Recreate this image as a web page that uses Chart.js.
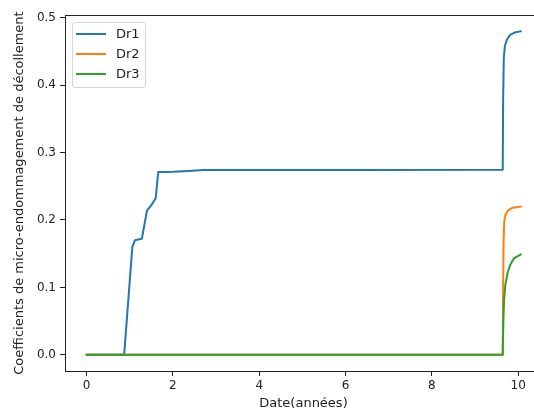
<!DOCTYPE html>
<html>
<head>
<meta charset="utf-8">
<script src="https://cdn.jsdelivr.net/npm/chart.js@4"></script>
<style>
  html, body { margin: 0; padding: 0; background: #fff; overflow: hidden; width: 534px; height: 414px; }
  #wrap { position: relative; width: 546px; height: 414px; }
  #legend {
    position: absolute; left: 72px; top: 22px; width: 72px; height: 64px;
    border: 1px solid #d6d6d6; border-radius: 3px; background: rgba(255,255,255,0.8);
    font-family: "DejaVu Sans", sans-serif; font-size: 13px; color: #222;
  }
  .row { position: absolute; left: 0; height: 20px; line-height: 20px; }
  .sw { position: absolute; left: 3px; top: 9px; width: 30px; height: 2px; }
  .lb { position: absolute; left: 43px; top: 0; white-space: nowrap; }
</style>
</head>
<body>
<div id="wrap">
  <canvas id="c" width="546" height="414"></canvas>
  <div id="legend"></div>
</div>
<script>
// Séries (x en années)
const seriesNames = ['Dr1', 'Dr2', 'Dr3'];
const seriesColors = ['#1f77b4', '#ff7f0e', '#2ca02c'];

const dr1X = [0, 0.87, 1.06, 1.12, 1.28, 1.40, 1.50, 1.60, 1.66, 2.0, 2.7, 9.64, 9.65, 9.665, 9.69, 9.74, 9.82, 9.92, 10.06];
const dr1Y = [0, 0, 0.160, 0.170, 0.172, 0.214, 0.222, 0.232, 0.271, 0.2715, 0.274, 0.2745, 0.38, 0.44, 0.458, 0.468, 0.475, 0.478, 0.48];

const dr2X = [0, 9.64, 9.65, 9.66, 9.675, 9.70, 9.76, 9.86, 10.06];
const dr2Y = [0, 0, 0.10, 0.17, 0.197, 0.207, 0.214, 0.218, 0.22];

const dr3X = [0, 9.64, 9.655, 9.67, 9.70, 9.75, 9.81, 9.90, 10.06];
const dr3Y = [0, 0, 0.05, 0.08, 0.103, 0.121, 0.133, 0.143, 0.149];

const xTicks = [0, 2, 4, 6, 8, 10];
const yTicks = [0, 0.1, 0.2, 0.3, 0.4, 0.5];

const xs = [dr1X, dr2X, dr3X];
const ys = [dr1Y, dr2Y, dr3Y];

function toPoints(xa, ya) {
    return xa.map((x, i) => ({ x: x, y: ya[i] }));
}

// tension minuscule : évite le "fast path" qui fusionne les points d'un même pixel
const datasets = seriesNames.map((name, i) => ({
    label: name,
    data: toPoints(xs[i], ys[i]),
    borderColor: seriesColors[i],
    backgroundColor: seriesColors[i],
    borderWidth: 2,
    borderJoinStyle: 'round',
    borderCapStyle: 'round',
    pointRadius: 0,
    tension: 0.0001,
    fill: false,
    order: seriesNames.length - i
}));

// légende HTML dans le coin haut gauche
const legend = document.getElementById('legend');
seriesNames.forEach((name, i) => {
    const row = document.createElement('div');
    row.className = 'row';
    row.style.top = (1 + i * 20) + 'px';
    row.innerHTML = '<div class="sw" style="background:' + seriesColors[i] + '"></div><div class="lb">' + name + '</div>';
    legend.appendChild(row);
});

// cadre haut (spine)
const topSpine = {
    id: 'topSpine',
    afterDraw(chart) {
        const { ctx, chartArea } = chart;
        ctx.save();
        ctx.strokeStyle = '#222';
        ctx.lineWidth = 1;
        ctx.beginPath();
        ctx.moveTo(chartArea.left, chartArea.top + 0.5);
        ctx.lineTo(chartArea.right, chartArea.top + 0.5);
        ctx.stroke();
        ctx.restore();
    }
};

const tickFont = { family: 'DejaVu Sans', size: 12 };
const titleFont = { family: 'DejaVu Sans', size: 13 };

new Chart(document.getElementById('c').getContext('2d'), {
    type: 'line',
    data: { datasets },
    plugins: [topSpine],
    options: {
        responsive: false,
        animation: false,
        layout: { padding: { top: 15, right: 4, left: 0, bottom: 0 } },
        plugins: { legend: { display: false }, tooltip: { enabled: false } },
        scales: {
            x: {
                type: 'linear',
                min: -0.5,
                max: 10.55,
                afterBuildTicks: s => { s.ticks = xTicks.map(v => ({ value: v })); },
                afterFit: s => { s.height = 43; },
                grid: { display: true, drawOnChartArea: false, drawTicks: true, tickLength: 5, color: '#222' },
                border: { display: true, color: '#222', width: 1 },
                ticks: { font: tickFont, color: '#222', padding: 3, maxRotation: 0, callback: v => String(v) },
                title: { display: true, text: 'Date(années)', font: titleFont, color: '#222', padding: { top: 0, bottom: 3 } }
            },
            y: {
                min: -0.024,
                max: 0.504,
                afterBuildTicks: s => { s.ticks = yTicks.map(v => ({ value: v })); },
                afterFit: s => { s.width = 65; },
                grid: { display: true, drawOnChartArea: false, drawTicks: true, tickLength: 5, color: '#222' },
                border: { display: true, color: '#222', width: 1 },
                ticks: { font: tickFont, color: '#222', padding: 4, callback: v => v.toFixed(1) },
                title: { display: true, text: 'Coefficients de micro-endommagement de décollement', font: titleFont, color: '#222', padding: { top: 12, bottom: 0 } }
            }
        }
    }
});
</script>
</body>
</html>
